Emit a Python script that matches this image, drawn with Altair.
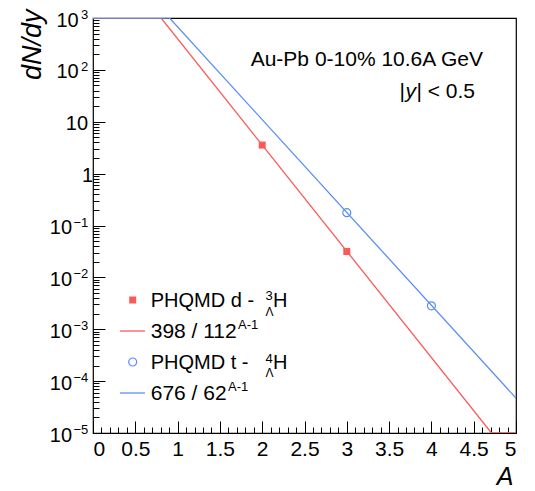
import altair as alt
import pandas as pd

# ---- data ----
red_pts_A = [2, 3]
red_pts_y = [3.55, 0.0315]
blue_pts_A = [3, 4]
blue_pts_y = [0.177, 0.00283]

red_line_A = [0, 0.805, 4.71, 5]
red_line_y = [1e3, 1e3, 1e-5, 1e-5]
blue_line_A = [0, 0.905, 5]
blue_line_y = [1e3, 1e3, 4.7e-5]

x_major = [0, 0.5, 1, 1.5, 2, 2.5, 3, 3.5, 4, 4.5, 5]
x_minor = [i / 10 for i in range(51) if i % 5]
y_major = [10.0 ** e for e in range(-5, 4)]
y_minor = [k * 10.0 ** e for e in range(-5, 3) for k in range(2, 10)]

RED = "#fa5a5a"
BLUE = "#5b8ef5"
FONT = "Liberation Sans"
W, H = 423, 415

red_pts = pd.DataFrame({"A": red_pts_A, "y": red_pts_y})
blue_pts = pd.DataFrame({"A": blue_pts_A, "y": blue_pts_y})
red_line = pd.DataFrame({"A": red_line_A, "y": red_line_y})
blue_line = pd.DataFrame({"A": blue_line_A, "y": blue_line_y})
dummy = pd.DataFrame({"k": [0]})

xs = alt.Scale(domain=[0, 5], nice=False, zero=False)
ys = alt.Scale(type="log", domain=[1e-5, 1e3], nice=False)

common = dict(grid=False, domain=False)

# axis 1: labels + titles
x_ax1 = alt.Axis(orient="bottom", values=x_major, format="~g", ticks=False, tickSize=0,
                 labelFont=FONT, labelFontSize=21, labelColor="black", labelBaseline="top",
                 labelPadding=5, title="A", titleFont=FONT, titleFontSize=25,
                 titleFontStyle="italic", titleFontWeight="normal", titleColor="black",
                 titleAlign="right", titleBaseline="alphabetic", titleX=W - 3, titleY=51.5,
                 **common)
y_ax1 = alt.Axis(orient="left", values=y_major, ticks=False, tickSize=0,
                 labelExpr="datum.value == 1 ? '1' : '10'",
                 labelFont=FONT, labelFontSize=20, labelColor="black", labelBaseline="middle",
                 labelAlign="right", labelOffset=2,
                 labelPadding={"condition": [
                     {"test": "datum.value == 1", "value": 0.5},
                     {"test": "datum.value == 10", "value": 5.4},
                     {"test": "datum.value >= 100", "value": 14.8}],
                     "value": 21.4},
                 title="dN/dy", titleFont=FONT, titleFontSize=27, titleFontStyle="italic",
                 titleFontWeight="normal", titleColor="black", titleAngle=270,
                 titleAlign="right", titleBaseline="alphabetic", titleX=-53, titleY=-9,
                 **common)
# axis 2: exponents + major x ticks
y_ax2 = alt.Axis(orient="left", values=y_major, ticks=False, tickSize=0,
                 labelExpr="datum.value >= 100 || datum.value <= 0.1 ? replace('' + round(log(datum.value) / LN10), '-', '\u2212') : ''",
                 labelFont=FONT, labelFontSize=13, labelColor="black", labelBaseline="middle",
                 labelAlign="right", labelOffset=-3.5, labelPadding=5.2, title=None, **common)
x_ax2 = alt.Axis(orient="top", offset=-H, values=x_major, labels=False, tickSize=12,
                 tickColor="black", tickWidth=1, title=None, **common)
# axis 3: major y ticks, minor x ticks
y_ax3 = alt.Axis(orient="right", offset=-W, values=y_major, labels=False, tickSize=12,
                 tickColor="black", tickWidth=1, title=None, **common)
x_ax3 = alt.Axis(orient="top", offset=-H, values=x_minor, labels=False, tickSize=6,
                 tickColor="black", tickWidth=1, title=None, **common)
# axis 4: minor y ticks
y_ax4 = alt.Axis(orient="right", offset=-W, values=y_minor, labels=False, tickSize=6,
                 tickColor="black", tickWidth=1, title=None, **common)

l_red_line = alt.Chart(red_line).mark_line(color=RED, strokeWidth=1.3, clip=True).encode(
    x=alt.X("A:Q", scale=xs, axis=x_ax1), y=alt.Y("y:Q", scale=ys, axis=y_ax1))
l_blue_line = alt.Chart(blue_line).mark_line(color=BLUE, strokeWidth=1.3, clip=True).encode(
    x=alt.X("A:Q", scale=xs, axis=x_ax2), y=alt.Y("y:Q", scale=ys, axis=y_ax2))
l_red_pts = alt.Chart(red_pts).mark_point(shape="square", filled=True, size=49, color=RED,
                                          opacity=1).encode(
    x=alt.X("A:Q", scale=xs, axis=x_ax3), y=alt.Y("y:Q", scale=ys, axis=y_ax3))
l_blue_pts = alt.Chart(blue_pts).mark_point(shape="circle", filled=False, size=64, color=BLUE,
                                            strokeWidth=1.2, opacity=1).encode(
    x=alt.X("A:Q", scale=xs, axis=None), y=alt.Y("y:Q", scale=ys, axis=y_ax4))


def txt(s, x, y, size=20, align="left", style="normal"):
    return alt.Chart(dummy).mark_text(text=s, fontSize=size, align=align, baseline="alphabetic",
                                      font=FONT, fontStyle=style, color="black").encode(
        x=alt.value(x), y=alt.value(y))


annot = [
    txt("Au-Pb 0-10% 10.6A GeV", 390, 48, size=21, align="right"),
    txt("| < 0.5", 382, 80.3, size=21, align="right"),
    txt("y", 323, 80.3, size=21, align="right", style="italic"),
    txt("|", 312, 80.3, size=21, align="right"),
]

legend = [
    alt.Chart(dummy).mark_point(shape="square", filled=True, size=49, color=RED, opacity=1).encode(
        x=alt.value(39.7), y=alt.value(282)),
    txt("PHQMD d - ", 57.7, 289),
    txt("3", 172.5, 282, size=13),
    txt("\u039b", 172.5, 297.5, size=12),
    txt("H", 180, 289),
    alt.Chart(dummy).mark_rule(color=RED, strokeWidth=1.3).encode(
        x=alt.value(27), x2=alt.value(52), y=alt.value(313)),
    txt("398 / 112", 57.7, 320, size=21),
    txt("A-1", 145, 311, size=13),
    alt.Chart(dummy).mark_point(shape="circle", filled=False, size=64, color=BLUE,
                                strokeWidth=1.2, opacity=1).encode(
        x=alt.value(39.7), y=alt.value(344)),
    txt("PHQMD t - ", 57.7, 351),
    txt("4", 172.5, 345, size=13),
    txt("\u039b", 172.5, 359, size=12),
    txt("H", 180, 351),
    alt.Chart(dummy).mark_rule(color=BLUE, strokeWidth=1.3).encode(
        x=alt.value(27), x2=alt.value(52), y=alt.value(375)),
    txt("676 / 62", 57.7, 382, size=21),
    txt("A-1", 135, 373, size=13),
]

chart = alt.layer(l_red_line, l_blue_line, l_red_pts, l_blue_pts, *annot, *legend).resolve_axis(
    x="independent", y="independent"
).properties(
    width=W, height=H, autosize=alt.AutoSizeParams(type="none"),
    padding={"left": 93, "top": 18, "right": 19, "bottom": 58}, background="white"
).configure_view(stroke="black", strokeWidth=1.2)

chart.save("out.html", embed_options={"renderer": "svg", "actions": False})
